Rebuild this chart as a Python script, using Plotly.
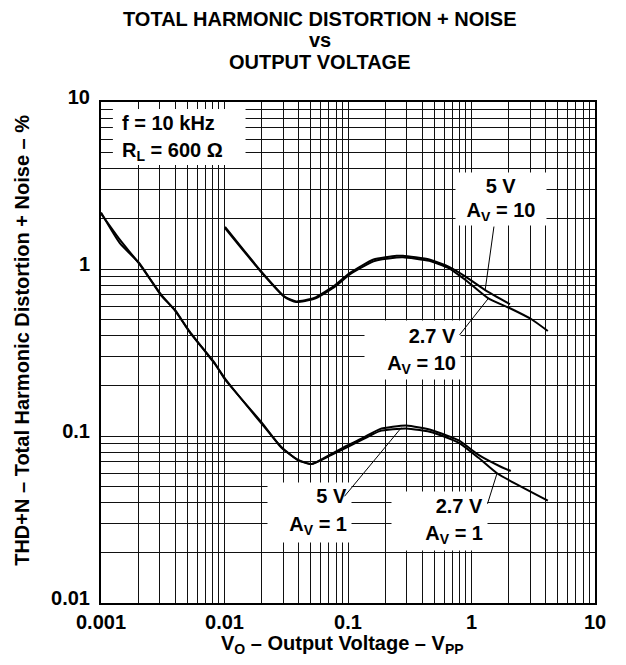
import numpy as np
import plotly.graph_objects as go

# ---------------- data ----------------
x_5v_av1 = [0.001, 0.00142, 0.00205, 0.00306, 0.0040, 0.00515, 0.00843, 0.0101, 0.0199, 0.0287,
            0.0391, 0.0508, 0.0722, 0.098, 0.134, 0.181, 0.296, 0.485, 0.79, 1.14, 1.76, 2.08]
y_5v_av1 = [2.15, 1.50, 1.07, 0.705, 0.56, 0.428, 0.267, 0.221, 0.119, 0.0863,
            0.0718, 0.0679, 0.0775, 0.0875, 0.098, 0.110, 0.1155, 0.108, 0.094, 0.077, 0.065, 0.0617]

x_27v_av1 = [0.001, 0.00142, 0.00205, 0.00306, 0.0040, 0.00515, 0.00843, 0.0101, 0.0199, 0.0287,
             0.0391, 0.0508, 0.0722, 0.098, 0.134, 0.181, 0.296, 0.485, 0.79, 1.14, 1.61, 4.15]
y_27v_av1 = [2.18, 1.43, 1.08, 0.695, 0.565, 0.425, 0.270, 0.218, 0.121, 0.0855,
             0.0722, 0.0679, 0.0765, 0.0855, 0.096, 0.107, 0.111, 0.105, 0.091, 0.074, 0.0598, 0.041]

x_5v_av10 = [0.0101, 0.0199, 0.0306, 0.038, 0.0532, 0.0769, 0.104, 0.161, 0.247, 0.279,
             0.455, 0.658, 0.895, 1.29, 2.05]
y_5v_av10 = [1.79, 0.964, 0.684, 0.640, 0.670, 0.790, 0.950, 1.14, 1.20, 1.20,
             1.14, 1.03, 0.90, 0.748, 0.616]

x_27v_av10 = [0.0101, 0.0199, 0.0306, 0.038, 0.0532, 0.0769, 0.104, 0.161, 0.247, 0.279,
              0.455, 0.658, 0.895, 1.37, 2.05, 3.06, 4.15]
y_27v_av10 = [1.76, 0.955, 0.680, 0.634, 0.662, 0.775, 0.930, 1.11, 1.17, 1.175,
              1.12, 1.01, 0.859, 0.667, 0.582, 0.50, 0.425]

x_decades = [0.001, 0.01, 0.1, 1, 10]
x_tick_labels = ["0.001", "0.01", "0.1", "1", "10"]
y_decades = [0.01, 0.1, 1, 10]
y_tick_labels = ["0.01", "0.1", "1", "10"]

# ---------------- figure ----------------
FONT = "Liberation Sans, Arial, Helvetica, sans-serif"
FS = 20
OFF = 8                      # page body margin
W, H = 626 - 2 * OFF, 665 - 2 * OFF
L, R, T, B = 101, 600, 102, 603   # plot area in page pixels


def px(x):
    return (x - L) / (R - L)


def py(y):
    return 1 - (y - T) / (B - T)


def grid_vals(decades):
    vals = []
    for i, d in enumerate(decades):
        if i < len(decades) - 1:
            for m in range(1, 10):
                vals.append(d * m)
        else:
            vals.append(d)
    return vals


xv = grid_vals(x_decades)
yv = grid_vals(y_decades)
xt = [x_tick_labels[x_decades.index(v)] if v in x_decades else "" for v in xv]
yt = [y_tick_labels[y_decades.index(v)] if v in y_decades else "" for v in yv]

fig = go.Figure()
line = dict(color="black", width=2, shape="spline", smoothing=0.5)
for xs, ys, name in [(x_5v_av1, y_5v_av1, "5 V, Av=1"), (x_27v_av1, y_27v_av1, "2.7 V, Av=1"),
                     (x_5v_av10, y_5v_av10, "5 V, Av=10"), (x_27v_av10, y_27v_av10, "2.7 V, Av=10")]:
    fig.add_trace(go.Scatter(x=xs, y=ys, mode="lines", line=line, name=name, showlegend=False))

axis_common = dict(type="log", showgrid=True, gridcolor="#111111", gridwidth=1,
                   showline=True, linecolor="black", linewidth=2, mirror=True,
                   ticks="", zeroline=False,
                   tickfont=dict(family=FONT, size=FS, color="black", weight="bold"))
fig.update_xaxes(range=[-3, 1], tickvals=xv, ticktext=xt, **axis_common)
fig.update_yaxes(range=[-2, 1], tickvals=yv, ticktext=yt, ticklabelshift=-5,
                 ticklabelstandoff=5, **axis_common)

fig.update_layout(
    width=W, height=H,
    margin=dict(l=L - OFF, r=W - (R - OFF), t=T - OFF, b=H - (B - OFF)),
    plot_bgcolor="white", paper_bgcolor="white",
    font=dict(family=FONT, color="black", size=FS, weight="bold"),
)

ann = []
# title lines
for txt, yc in [("TOTAL HARMONIC DISTORTION + NOISE", 18.6), ("vs", 40), ("OUTPUT VOLTAGE", 62)]:
    ann.append(dict(text=txt, xref="paper", yref="paper", x=px(322), y=py(yc),
                    xanchor="center", yanchor="middle", showarrow=False, font=dict(size=FS)))
# axis titles
ann.append(dict(text="V<sub>O</sub> – Output Voltage – V<sub>PP</sub>", xref="paper", yref="paper",
                x=px(345), y=py(644), xanchor="center", yanchor="middle", showarrow=False,
                font=dict(size=FS)))
ann.append(dict(text="THD+N – Total Harmonic Distortion + Noise – %", xref="paper", yref="paper",
                x=px(21), y=py(340), xanchor="center", yanchor="middle", showarrow=False,
                textangle=-90, font=dict(size=FS)))

# conditions block: white panel + left-aligned text
fig.add_shape(type="rect", xref="paper", yref="paper", x0=px(113), x1=px(247), y0=py(165), y1=py(109),
              fillcolor="white", line=dict(width=0), layer="above")
for txt, yc in [("f = 10 kHz", 123), ("R<sub>L</sub> = 600 Ω", 151)]:
    ann.append(dict(text=txt, xref="paper", yref="paper", x=px(120), y=py(yc),
                    xanchor="left", yanchor="middle", showarrow=False, font=dict(size=FS)))


def box(text, x0, x1, y0, y1, align, pad=4):
    ann.append(dict(text=text, xref="paper", yref="paper", x=px((x0 + x1) / 2), y=py((y0 + y1) / 2),
                    xanchor="center", yanchor="middle", showarrow=False,
                    width=(x1 - x0) - 2 * pad, height=(y1 - y0) - 2 * pad, borderpad=pad,
                    bgcolor="white", align=align, valign="middle", font=dict(size=FS)))


box("5 V", 460, 550, 173, 199, "center")
box("A<sub>V</sub> = 10", 460, 550, 199, 225, "center")
box("2.7 V", 368, 463, 321, 350, "right")
box("A<sub>V</sub> = 10", 368, 463, 350, 379, "right")
box("5 V", 270, 353, 483, 509, "right")
box("A<sub>V</sub> = 1", 270, 353, 509, 542, "right")
box("2.7 V", 395, 490, 492, 519, "right")
box("A<sub>V</sub> = 1", 395, 490, 519, 550, "right")

# leader lines (tips on curves in data coords, tails offset in pixels)
leaders = [((1.29, 0.748), (9, -65)), ((1.37, 0.667), (-30, 38)),
           ((0.27, 0.112), (-58, 70)), ((1.61, 0.0598), (-10, 32))]
for (tx, ty), (ax, ay) in leaders:
    ann.append(dict(text="", x=np.log10(tx), y=np.log10(ty), xref="x", yref="y",
                    showarrow=True, arrowhead=0, arrowwidth=1, arrowcolor="black",
                    ax=ax, ay=ay, standoff=0, startstandoff=0))

fig.update_layout(annotations=ann)
fig.write_html("out.html")
